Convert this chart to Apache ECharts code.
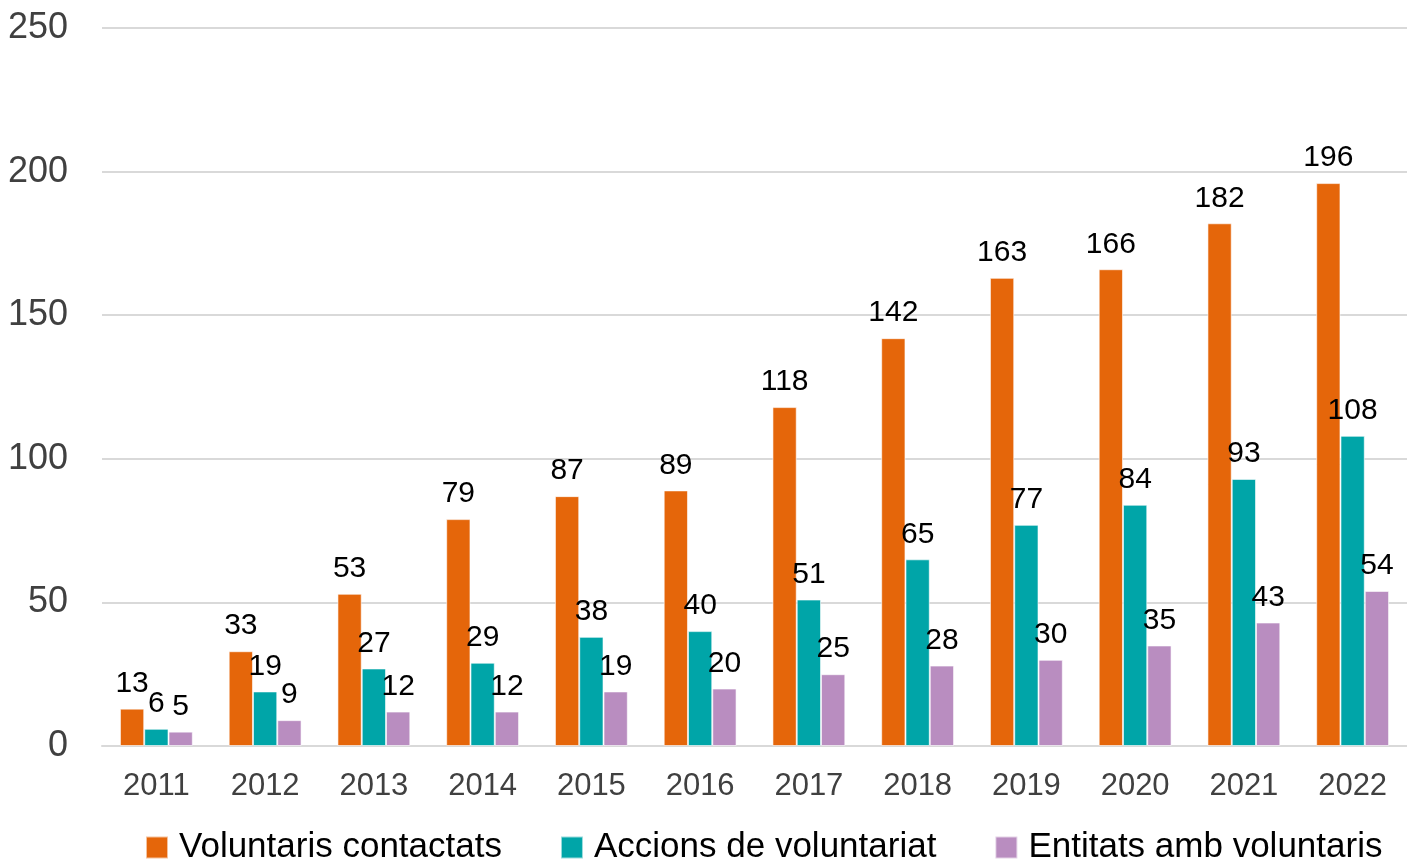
<!DOCTYPE html>
<html><head><meta charset="utf-8">
<script src="https://cdn.jsdelivr.net/npm/echarts@6/dist/echarts.min.js"></script>
<style>html,body{margin:0;padding:0;background:#fff}#c{width:1407px;height:864px}</style>
</head><body><div id="c"></div>
<script>
const years = ['2011','2012','2013','2014','2015','2016','2017','2018','2019','2020','2021','2022'];
const voluntaris = [13,33,53,79,87,89,118,142,163,166,182,196];
const accions = [6,19,27,29,38,40,51,65,77,84,93,108];
const entitats = [5,9,12,12,19,20,25,28,30,35,43,54];
const seriesNames = ['Voluntaris contactats','Accions de voluntariat','Entitats amb voluntaris'];
const colors = ['#E5660A','#00A5A8','#B98DC0'];
const FONT = '"Liberation Sans Narrow","Arial Narrow","Liberation Sans",sans-serif';
const chart = echarts.init(document.getElementById('c'));
const mk = (name, data, color) => ({
  name, type:'bar', data, barGap:'0%', barCategoryGap:'33%',
  itemStyle:{color, borderColor:'rgba(255,255,255,0.6)', borderWidth:1},
  label:{show:true, position:'top', distance:10, color:'#000', fontSize:30, fontFamily:FONT},
  animation:false
});
chart.setOption({
  animation:false,
  color: colors,
  grid:{left:102, right:0, top:28, bottom:118, containLabel:false},
  legend:{bottom:-6, left:140, itemWidth:22, itemHeight:22, itemGap:58,
    icon:'rect', textStyle:{fontSize:35, fontFamily:FONT, color:'#000', padding:[0,0,0,6]}, data:seriesNames},
  xAxis:{type:'category', data:years,
    axisLine:{lineStyle:{color:'#d9d9d9', width:2}}, axisTick:{show:false},
    axisLabel:{fontSize:31, fontFamily:FONT, color:'#404040', margin:25}},
  yAxis:{type:'value', min:0, max:250, interval:50,
    axisLine:{show:false}, axisTick:{show:false},
    splitLine:{lineStyle:{color:'#d9d9d9', width:2}},
    axisLabel:{fontSize:36, fontFamily:FONT, color:'#404040', margin:34}},
  series:[mk(seriesNames[0], voluntaris, colors[0]), mk(seriesNames[1], accions, colors[1]), mk(seriesNames[2], entitats, colors[2])]
});
</script></body></html>
